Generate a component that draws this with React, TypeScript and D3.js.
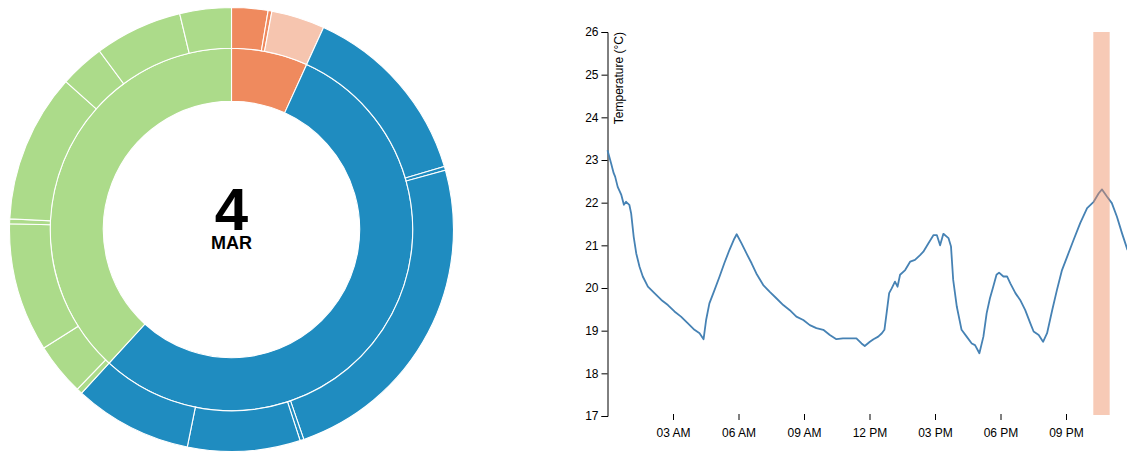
import React, { useEffect, useRef } from "react";
import * as d3 from "d3";

// ---------- Donut (sunburst) data ----------
const groupNames = ["Orange", "Blue", "Green"];
const groupColors = ["#ef8a5e", "#1f8cc0", "#acdb8a"];
const orangeValues = [38, 4, 56];
const orangeShades = ["#ef8a5e", "#ef8a5e", "#f6c5af"];
const blueValues = [196, 4, 346, 4, 118, 124];
const greenValues = [6, 55, 135, 5, 156, 47, 92, 54];

const dayNumber = "4";
const monthLabel = "MAR";

// ---------- Temperature line data (minutes since midnight, °C) ----------
const timeMinutes = [
  0, 10, 17, 21, 28, 38, 45, 51, 60, 65, 72, 79, 88, 97, 111, 129, 148, 166, 184, 202,
  221, 239, 253, 264, 271, 280, 294, 308, 321, 335, 347, 355, 368, 382, 396, 409, 428, 446, 464, 483,
  501, 519, 538, 556, 574, 593, 611, 629, 647, 666, 684, 698, 707, 721, 731, 744, 754, 761, 767, 774,
  781, 790, 797, 804, 818, 832, 845, 859, 868, 882, 896, 905, 914, 923, 937, 944, 950, 960, 973, 987,
  1001, 1010, 1022, 1033, 1042, 1051, 1060, 1069, 1076, 1088, 1098, 1107, 1121, 1134, 1148, 1162, 1171, 1185, 1197, 1208,
  1222, 1235, 1249, 1263, 1281, 1299, 1318, 1336, 1350, 1359, 1373, 1386, 1400, 1414, 1429,
];
const temperatures = [
  23.23, 22.92, 22.69, 22.61, 22.37, 22.18, 21.95, 22.02, 21.95, 21.75, 21.2, 20.81, 20.5, 20.27, 20.03, 19.88, 19.72, 19.6, 19.45, 19.33,
  19.17, 19.02, 18.94, 18.8, 19.25, 19.64, 19.95, 20.27, 20.58, 20.89, 21.13, 21.26, 21.05, 20.81, 20.58, 20.34, 20.07, 19.91, 19.76, 19.6,
  19.48, 19.33, 19.25, 19.13, 19.06, 19.02, 18.9, 18.8, 18.82, 18.82, 18.82, 18.7, 18.64, 18.74, 18.8, 18.86, 18.94, 19.02, 19.41, 19.88,
  19.99, 20.15, 20.03, 20.31, 20.42, 20.62, 20.66, 20.77, 20.85, 21.05, 21.24, 21.24, 21.0, 21.27, 21.17, 20.97, 20.19, 19.56, 19.02, 18.86,
  18.7, 18.66, 18.47, 18.86, 19.41, 19.76, 20.03, 20.31, 20.36, 20.27, 20.27, 20.11, 19.88, 19.72, 19.48, 19.17, 18.98, 18.9, 18.74, 18.94,
  19.48, 19.95, 20.42, 20.73, 21.13, 21.52, 21.87, 22.02, 22.22, 22.31, 22.14, 21.99, 21.67, 21.28, 20.89,
];
const xTickMinutes = [180, 360, 540, 720, 900, 1080, 1260];
const xTickLabels = ["03 AM", "06 AM", "09 AM", "12 PM", "03 PM", "06 PM", "09 PM"];
const yTickValues = [17, 18, 19, 20, 21, 22, 23, 24, 25, 26];
const yAxisTitle = "Temperature (°C)";
const highlightStart = 1335;
const highlightEnd = 1380;

const FONT = "'Liberation Sans', Arial, Helvetica, sans-serif";

export default function App() {
  const ref = useRef<SVGSVGElement | null>(null);

  useEffect(() => {
    const svg = d3.select(ref.current);
    svg.selectAll("*").remove();

    // ---------- Sunburst ----------
    const cx = 231.5, cy = 229.5, R = 222;
    const childSets = [orangeValues, blueValues, greenValues];
    const rootData = {
      name: "root",
      children: groupNames.map((g, i) => ({
        name: g,
        color: groupColors[i],
        children: childSets[i].map((v, j) => ({
          name: g + j,
          value: v,
          color: i === 0 ? orangeShades[j] : groupColors[i],
        })),
      })),
    };
    const root = d3.hierarchy<any>(rootData).sum((d: any) => d.value || 0);
    d3.partition<any>().size([2 * Math.PI, R * R])(root);
    const arc = d3
      .arc<any>()
      .startAngle((d: any) => d.x0)
      .endAngle((d: any) => d.x1)
      .innerRadius((d: any) => Math.sqrt(d.y0))
      .outerRadius((d: any) => Math.sqrt(d.y1));

    const g = svg.append("g").attr("transform", `translate(${cx},${cy})`);
    g.selectAll("path")
      .data(root.descendants().filter((d) => d.depth > 0))
      .enter()
      .append("path")
      .attr("d", arc as any)
      .attr("fill", (d: any) => d.data.color)
      .attr("stroke", "#fff")
      .attr("stroke-width", 1.1);

    g.append("text")
      .attr("text-anchor", "middle")
      .attr("y", 0)
      .attr("font-family", FONT)
      .attr("font-weight", "bold")
      .attr("font-size", 60)
      .attr("fill", "#000")
      .text(dayNumber);
    g.append("text")
      .attr("text-anchor", "middle")
      .attr("y", 19.5)
      .attr("font-family", FONT)
      .attr("font-weight", "bold")
      .attr("font-size", 18)
      .attr("fill", "#000")
      .text(monthLabel);

    // ---------- Line chart ----------
    const left = 607.5, top = 32, bottom = 416;
    const x = d3.scaleLinear().domain([0, 1440]).range([left, left + 524]);
    const y = d3.scaleLinear().domain([17, 26]).range([bottom, top]);

    const lc = svg.append("g");

    const yAxis = d3.axisLeft(y).tickValues(yTickValues).tickSize(6).tickPadding(3);
    const yg = lc.append("g").attr("transform", `translate(${left},0)`).call(yAxis as any);
    yg.selectAll("text").attr("font-size", 12).attr("font-family", FONT).attr("fill", "#000");
    yg.selectAll("line").attr("stroke", "#000");
    yg.select(".domain").attr("stroke", "#000");
    yg.append("text")
      .attr("transform", "rotate(-90)")
      .attr("x", -top + 32 - 32)
      .attr("y", 7)
      .attr("dy", ".71em")
      .attr("text-anchor", "end")
      .attr("fill", "#000")
      .attr("font-size", 12)
      .attr("font-family", FONT)
      .text(yAxisTitle)
      .attr("x", -top);

    const xAxis = d3
      .axisBottom(x)
      .tickValues(xTickMinutes)
      .tickFormat((_d: any, i: number) => xTickLabels[i])
      .tickSize(6)
      .tickSizeOuter(0)
      .tickPadding(8);
    const xg = lc.append("g").attr("transform", `translate(0,414)`).call(xAxis as any);
    xg.select(".domain").remove();
    xg.selectAll("text").attr("font-size", 12).attr("font-family", FONT).attr("fill", "#000");
    xg.selectAll("line").attr("stroke", "#000");

    const points = timeMinutes.map((t, i) => [t, temperatures[i]] as [number, number]);
    const line = d3
      .line<[number, number]>()
      .x((d) => x(d[0]))
      .y((d) => y(d[1]));
    lc.append("path")
      .datum(points)
      .attr("d", line)
      .attr("fill", "none")
      .attr("stroke", "#4682b4")
      .attr("stroke-width", 1.8)
      .attr("stroke-linejoin", "round");

    lc.append("rect")
      .attr("x", x(highlightStart))
      .attr("y", top)
      .attr("width", x(highlightEnd) - x(highlightStart))
      .attr("height", bottom - top - 1)
      .attr("fill", "#ee8a5e")
      .attr("fill-opacity", 0.45);
  }, []);

  return (
    <svg
      ref={ref}
      width={1127}
      height={454}
      style={{ position: "absolute", left: 0, top: 0, display: "block", background: "#fff" }}
    />
  );
}
